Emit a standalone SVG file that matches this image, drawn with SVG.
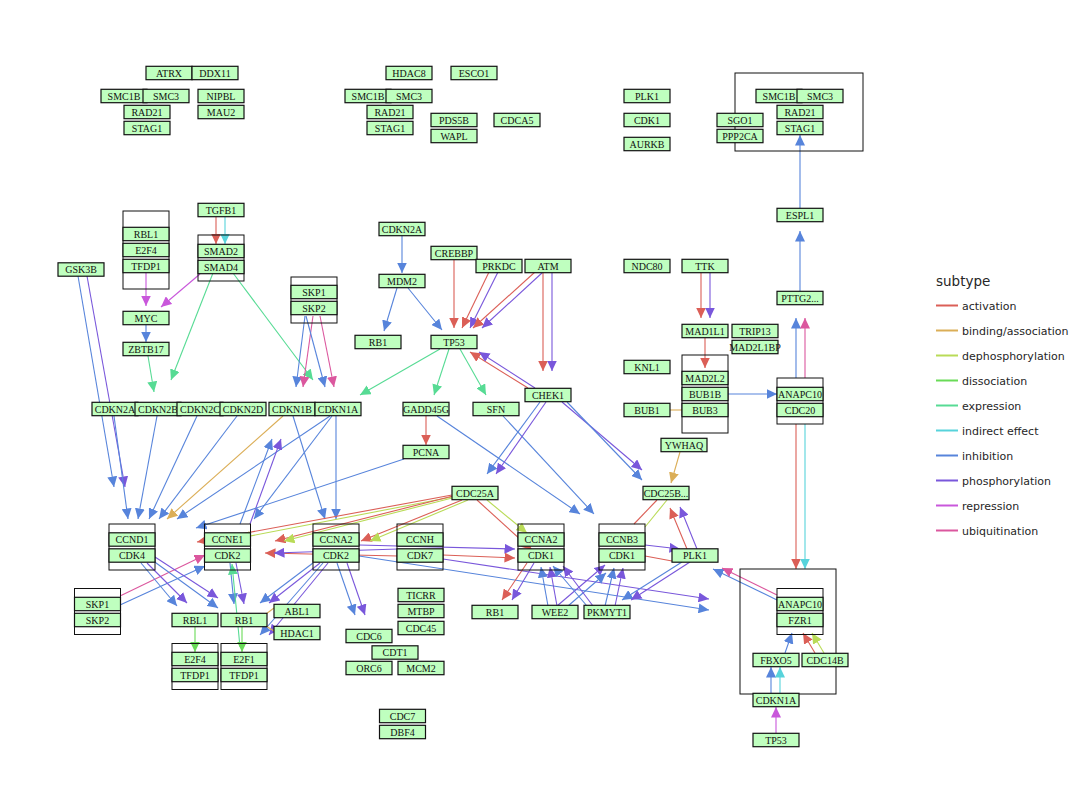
<svg xmlns="http://www.w3.org/2000/svg" width="1080" height="810" viewBox="0 0 1080 810">
<style>
.nd{fill:#BFFFBF;stroke:#111;stroke-width:1.2}
.fr{fill:none;stroke:#111;stroke-width:1}
.t{font-family:"Liberation Serif","Times New Roman",serif;font-size:10px;fill:#111;text-anchor:middle}
.e line{stroke-width:1.1;fill:none}
.a{stroke:#DB5F57;marker-end:url(#ma)}
.b{stroke:#DBAE57;marker-end:url(#mb)}
.d{stroke:#B9DB57;marker-end:url(#md)}
.x{stroke:#69DB57;marker-end:url(#mx)}
.ex{stroke:#57DB94;marker-end:url(#me)}
.i{stroke:#57D3DB;marker-end:url(#mi)}
.h{stroke:#5784DB;marker-end:url(#mh)}
.p{stroke:#7957DB;marker-end:url(#mp)}
.r{stroke:#C957DB;marker-end:url(#mr)}
.u{stroke:#DB579E;marker-end:url(#mu)}
.e line.n{marker-end:none}
.lg{font-family:"DejaVu Sans",sans-serif;fill:#262626}
.lg line{stroke-width:2}
</style>
<defs>
<marker id="ma" markerUnits="userSpaceOnUse" markerWidth="11" markerHeight="10" refX="10.5" refY="5" orient="auto"><path d="M0,0 L10.5,5 L0,10 z" fill="#DB5F57"/></marker>
<marker id="mb" markerUnits="userSpaceOnUse" markerWidth="11" markerHeight="10" refX="10.5" refY="5" orient="auto"><path d="M0,0 L10.5,5 L0,10 z" fill="#DBAE57"/></marker>
<marker id="md" markerUnits="userSpaceOnUse" markerWidth="11" markerHeight="10" refX="10.5" refY="5" orient="auto"><path d="M0,0 L10.5,5 L0,10 z" fill="#B9DB57"/></marker>
<marker id="mx" markerUnits="userSpaceOnUse" markerWidth="11" markerHeight="10" refX="10.5" refY="5" orient="auto"><path d="M0,0 L10.5,5 L0,10 z" fill="#69DB57"/></marker>
<marker id="me" markerUnits="userSpaceOnUse" markerWidth="11" markerHeight="10" refX="10.5" refY="5" orient="auto"><path d="M0,0 L10.5,5 L0,10 z" fill="#57DB94"/></marker>
<marker id="mi" markerUnits="userSpaceOnUse" markerWidth="11" markerHeight="10" refX="10.5" refY="5" orient="auto"><path d="M0,0 L10.5,5 L0,10 z" fill="#57D3DB"/></marker>
<marker id="mh" markerUnits="userSpaceOnUse" markerWidth="11" markerHeight="10" refX="10.5" refY="5" orient="auto"><path d="M0,0 L10.5,5 L0,10 z" fill="#5784DB"/></marker>
<marker id="mp" markerUnits="userSpaceOnUse" markerWidth="11" markerHeight="10" refX="10.5" refY="5" orient="auto"><path d="M0,0 L10.5,5 L0,10 z" fill="#7957DB"/></marker>
<marker id="mr" markerUnits="userSpaceOnUse" markerWidth="11" markerHeight="10" refX="10.5" refY="5" orient="auto"><path d="M0,0 L10.5,5 L0,10 z" fill="#C957DB"/></marker>
<marker id="mu" markerUnits="userSpaceOnUse" markerWidth="11" markerHeight="10" refX="10.5" refY="5" orient="auto"><path d="M0,0 L10.5,5 L0,10 z" fill="#DB579E"/></marker>
</defs>
<rect width="1080" height="810" fill="#fff"/>

<g id="edges" class="e">
<line class="a" x1="216" y1="217" x2="216" y2="244"/>
<line class="i" x1="225" y1="217" x2="225" y2="244"/>
<line class="r" x1="146" y1="273" x2="146" y2="306"/>
<line class="r" x1="200" y1="274" x2="161" y2="307"/>
<line class="h" x1="146" y1="325" x2="146" y2="342"/>
<line class="ex" x1="148" y1="356" x2="154" y2="392"/>
<line class="ex" x1="213" y1="273" x2="171" y2="380"/>
<line class="ex" x1="233" y1="273" x2="313" y2="380"/>
<line class="h" x1="305" y1="316" x2="296" y2="387"/>
<line class="u" x1="313" y1="316" x2="303" y2="387"/>
<line class="h" x1="306" y1="316" x2="325" y2="387"/>
<line class="u" x1="320" y1="316" x2="334" y2="387"/>
<line class="h" x1="78" y1="276" x2="114" y2="487"/>
<line class="p" x1="87" y1="276" x2="125" y2="487"/>
<line class="h" x1="114" y1="416" x2="128" y2="519"/>
<line class="h" x1="157" y1="416" x2="138" y2="519"/>
<line class="h" x1="197" y1="416" x2="149" y2="519"/>
<line class="h" x1="237" y1="416" x2="159" y2="519"/>
<line class="b" x1="283" y1="416" x2="167" y2="519"/>
<line class="h" x1="330" y1="416" x2="177" y2="519"/>
<line class="h" x1="332" y1="416" x2="254" y2="519"/>
<line class="h" x1="293" y1="416" x2="325" y2="519"/>
<line class="h" x1="336" y1="416" x2="336" y2="519"/>
<line class="h" x1="240" y1="524" x2="272" y2="439"/>
<line class="p" x1="250" y1="524" x2="281" y2="439"/>
<line class="h" x1="404" y1="459" x2="196" y2="528"/>
<line class="u" x1="120" y1="596" x2="205" y2="555"/>
<line class="h" x1="120" y1="605" x2="205" y2="566"/>
<line class="h" x1="402" y1="236" x2="402" y2="273"/>
<line class="h" x1="397" y1="288" x2="384" y2="331"/>
<line class="h" x1="408" y1="288" x2="442" y2="330"/>
<line class="a" x1="454" y1="260" x2="454" y2="328"/>
<line class="a" x1="489" y1="272" x2="462" y2="328"/>
<line class="p" x1="498" y1="272" x2="470" y2="328"/>
<line class="a" x1="535" y1="272" x2="473" y2="328"/>
<line class="p" x1="543" y1="272" x2="482" y2="328"/>
<line class="a" x1="543" y1="272" x2="543" y2="371"/>
<line class="p" x1="552" y1="272" x2="552" y2="371"/>
<line class="a" x1="528" y1="388" x2="470" y2="352"/>
<line class="p" x1="535" y1="388" x2="479" y2="352"/>
<line class="ex" x1="440" y1="349" x2="360" y2="395"/>
<line class="ex" x1="449" y1="349" x2="434" y2="395"/>
<line class="ex" x1="460" y1="349" x2="486" y2="395"/>
<line class="a" x1="426" y1="416" x2="426" y2="445"/>
<line class="h" x1="437" y1="416" x2="580" y2="514"/>
<line class="h" x1="503" y1="416" x2="594" y2="514"/>
<line class="h" x1="540" y1="402" x2="487" y2="474"/>
<line class="p" x1="546" y1="402" x2="496" y2="474"/>
<line class="p" x1="562" y1="402" x2="642" y2="470"/>
<line class="h" x1="567" y1="402" x2="642" y2="480"/>
<line class="b" x1="680" y1="452" x2="671" y2="483"/>
<line class="a" x1="452" y1="495" x2="197" y2="542"/>
<line class="d" x1="452" y1="497" x2="240" y2="538"/>
<line class="a" x1="453" y1="496" x2="275" y2="541"/>
<line class="d" x1="456" y1="497" x2="284" y2="541"/>
<line class="a" x1="462" y1="500" x2="361" y2="541"/>
<line class="d" x1="468" y1="500" x2="370" y2="541"/>
<line class="a" x1="477" y1="500" x2="532" y2="550"/>
<line class="d" x1="487" y1="500" x2="527" y2="533"/>
<line class="a" x1="398" y1="556" x2="265" y2="553"/>
<line class="p" x1="398" y1="549" x2="274" y2="553"/>
<line class="p" x1="359" y1="545" x2="515" y2="549"/>
<line class="a" x1="443" y1="555" x2="515" y2="558"/>
<line class="p" x1="443" y1="559" x2="709" y2="599"/>
<line class="h" x1="359" y1="556" x2="709" y2="610"/>
<line class="h" x1="337" y1="563" x2="355" y2="615"/>
<line class="p" x1="347" y1="563" x2="365" y2="615"/>
<line class="h" x1="313" y1="563" x2="260" y2="603"/>
<line class="p" x1="320" y1="563" x2="269" y2="603"/>
<line class="h" x1="323" y1="563" x2="260" y2="635"/>
<line class="p" x1="328" y1="563" x2="269" y2="635"/>
<line class="h" x1="230" y1="563" x2="234" y2="604"/>
<line class="p" x1="236" y1="563" x2="244" y2="604"/>
<line class="ex" x1="240" y1="647" x2="232" y2="564"/>
<line class="x" x1="242" y1="627" x2="242" y2="652"/>
<line class="x" x1="195" y1="627" x2="195" y2="652"/>
<line class="h" x1="141" y1="563" x2="177" y2="606"/>
<line class="p" x1="147" y1="563" x2="187" y2="603"/>
<line class="p" x1="155" y1="557" x2="218" y2="598"/>
<line class="h" x1="152" y1="560" x2="218" y2="608"/>
<line class="b n" x1="266" y1="614" x2="274" y2="608"/>
<line class="b n" x1="266" y1="626" x2="274" y2="631"/>
<line class="a" x1="527" y1="563" x2="502" y2="600"/>
<line class="p" x1="534" y1="563" x2="512" y2="600"/>
<line class="h" x1="548" y1="606" x2="541" y2="567"/>
<line class="p" x1="557" y1="606" x2="550" y2="567"/>
<line class="p" x1="557" y1="606" x2="605" y2="565"/>
<line class="h" x1="568" y1="606" x2="606" y2="573"/>
<line class="h" x1="587" y1="606" x2="553" y2="566"/>
<line class="p" x1="593" y1="606" x2="563" y2="566"/>
<line class="h" x1="605" y1="606" x2="614" y2="568"/>
<line class="p" x1="615" y1="606" x2="623" y2="568"/>
<line class="p" x1="645" y1="545" x2="680" y2="549"/>
<line class="a n" x1="645" y1="556" x2="672" y2="561"/>
<line class="a n" x1="657" y1="500" x2="634" y2="524"/>
<line class="d n" x1="667" y1="500" x2="645" y2="527"/>
<line class="a" x1="687" y1="549" x2="670" y2="508"/>
<line class="p" x1="697" y1="549" x2="680" y2="507"/>
<line class="h" x1="682" y1="562" x2="622" y2="600"/>
<line class="p" x1="690" y1="562" x2="631" y2="600"/>
<line class="h" x1="777" y1="600" x2="713" y2="569"/>
<line class="u" x1="777" y1="595" x2="722" y2="568"/>
<line class="h" x1="785" y1="653" x2="792" y2="633"/>
<line class="a" x1="815" y1="653" x2="803" y2="633"/>
<line class="d" x1="824" y1="653" x2="812" y2="633"/>
<line class="h" x1="771" y1="693" x2="771" y2="667"/>
<line class="i" x1="780" y1="693" x2="780" y2="667"/>
<line class="r" x1="776" y1="733" x2="776" y2="707"/>
<line class="a" x1="796" y1="424" x2="796" y2="569"/>
<line class="i" x1="805" y1="424" x2="805" y2="569"/>
<line class="h" x1="796" y1="378" x2="796" y2="318"/>
<line class="u" x1="805" y1="378" x2="805" y2="318"/>
<line class="h" x1="800" y1="291" x2="800" y2="231"/>
<line class="h" x1="800" y1="208" x2="800" y2="135"/>
<line class="h" x1="728" y1="394" x2="777" y2="394"/>
<line class="b n" x1="670" y1="410" x2="682" y2="410"/>
<line class="a" x1="701" y1="273" x2="701" y2="318"/>
<line class="p" x1="710" y1="273" x2="710" y2="318"/>
<line class="a" x1="705" y1="338" x2="705" y2="368"/>
</g>

<g id="frames">
<rect class="fr" x="735" y="73" width="128" height="78"/>
<rect class="fr" x="198" y="235" width="46" height="46"/>
<rect class="fr" x="123" y="211" width="46" height="78"/>
<rect class="fr" x="291" y="277" width="46" height="46"/>
<rect class="fr" x="682" y="355" width="46" height="78"/>
<rect class="fr" x="777" y="378" width="46" height="46"/>
<rect class="fr" x="109" y="524" width="46" height="46"/>
<rect class="fr" x="204.5" y="524" width="46" height="46"/>
<rect class="fr" x="313" y="524" width="46" height="46"/>
<rect class="fr" x="397" y="524" width="46" height="46"/>
<rect class="fr" x="518" y="524" width="46" height="46"/>
<rect class="fr" x="599" y="524" width="46" height="46"/>
<rect class="fr" x="74.5" y="588.5" width="46" height="46"/>
<rect class="fr" x="172" y="643.5" width="46" height="46"/>
<rect class="fr" x="221" y="643.5" width="46" height="46"/>
<rect class="fr" x="740" y="569" width="96" height="125"/>
<rect class="fr" x="777" y="588.5" width="46" height="46"/>
</g>

<g id="n1"><rect class="nd" x="146" y="66.3" width="46" height="13.4"/><text class="t" x="169" y="76.5">ATRX</text></g>
<g id="n2"><rect class="nd" x="192" y="66.3" width="46" height="13.4"/><text class="t" x="215" y="76.5">DDX11</text></g>
<g id="n3"><rect class="nd" x="101" y="89.3" width="46" height="13.4"/><text class="t" x="124" y="99.5">SMC1B</text></g>
<g id="n4"><rect class="nd" x="143" y="89.3" width="46" height="13.4"/><text class="t" x="166" y="99.5">SMC3</text></g>
<g id="n5"><rect class="nd" x="198" y="89.3" width="46" height="13.4"/><text class="t" x="221" y="99.5">NIPBL</text></g>
<g id="n6"><rect class="nd" x="124" y="105.3" width="46" height="13.4"/><text class="t" x="147" y="115.5">RAD21</text></g>
<g id="n7"><rect class="nd" x="198" y="105.3" width="46" height="13.4"/><text class="t" x="221" y="115.5">MAU2</text></g>
<g id="n8"><rect class="nd" x="124" y="121.3" width="46" height="13.4"/><text class="t" x="147" y="131.5">STAG1</text></g>
<g id="n9"><rect class="nd" x="386" y="66.3" width="46" height="13.4"/><text class="t" x="409" y="76.5">HDAC8</text></g>
<g id="n10"><rect class="nd" x="451" y="66.3" width="46" height="13.4"/><text class="t" x="474" y="76.5">ESCO1</text></g>
<g id="n11"><rect class="nd" x="345" y="89.3" width="46" height="13.4"/><text class="t" x="368" y="99.5">SMC1B</text></g>
<g id="n12"><rect class="nd" x="386" y="89.3" width="46" height="13.4"/><text class="t" x="409" y="99.5">SMC3</text></g>
<g id="n13"><rect class="nd" x="367" y="105.3" width="46" height="13.4"/><text class="t" x="390" y="115.5">RAD21</text></g>
<g id="n14"><rect class="nd" x="367" y="121.3" width="46" height="13.4"/><text class="t" x="390" y="131.5">STAG1</text></g>
<g id="n15"><rect class="nd" x="431" y="113.3" width="46" height="13.4"/><text class="t" x="454" y="123.5">PDS5B</text></g>
<g id="n16"><rect class="nd" x="431" y="129.3" width="46" height="13.4"/><text class="t" x="454" y="139.5">WAPL</text></g>
<g id="n17"><rect class="nd" x="494" y="113.3" width="46" height="13.4"/><text class="t" x="517" y="123.5">CDCA5</text></g>
<g id="n18"><rect class="nd" x="624" y="89.3" width="46" height="13.4"/><text class="t" x="647" y="99.5">PLK1</text></g>
<g id="n19"><rect class="nd" x="624" y="113.3" width="46" height="13.4"/><text class="t" x="647" y="123.5">CDK1</text></g>
<g id="n20"><rect class="nd" x="624" y="137.3" width="46" height="13.4"/><text class="t" x="647" y="147.5">AURKB</text></g>
<g id="n21"><rect class="nd" x="756" y="89.3" width="46" height="13.4"/><text class="t" x="779" y="99.5">SMC1B</text></g>
<g id="n22"><rect class="nd" x="797" y="89.3" width="46" height="13.4"/><text class="t" x="820" y="99.5">SMC3</text></g>
<g id="n23"><rect class="nd" x="777" y="105.3" width="46" height="13.4"/><text class="t" x="800" y="115.5">RAD21</text></g>
<g id="n24"><rect class="nd" x="777" y="121.3" width="46" height="13.4"/><text class="t" x="800" y="131.5">STAG1</text></g>
<g id="n25"><rect class="nd" x="717" y="113.3" width="46" height="13.4"/><text class="t" x="740" y="123.5">SGO1</text></g>
<g id="n26"><rect class="nd" x="717" y="129.3" width="46" height="13.4"/><text class="t" x="740" y="139.5">PPP2CA</text></g>
<g id="n27"><rect class="nd" x="198" y="203.3" width="46" height="13.4"/><text class="t" x="221" y="213.5">TGFB1</text></g>
<g id="n28"><rect class="nd" x="198" y="244.3" width="46" height="13.4"/><text class="t" x="221" y="254.5">SMAD2</text></g>
<g id="n29"><rect class="nd" x="198" y="260.3" width="46" height="13.4"/><text class="t" x="221" y="270.5">SMAD4</text></g>
<g id="n30"><rect class="nd" x="123" y="227.3" width="46" height="13.4"/><text class="t" x="146" y="237.5">RBL1</text></g>
<g id="n31"><rect class="nd" x="123" y="243.3" width="46" height="13.4"/><text class="t" x="146" y="253.5">E2F4</text></g>
<g id="n32"><rect class="nd" x="123" y="259.3" width="46" height="13.4"/><text class="t" x="146" y="269.5">TFDP1</text></g>
<g id="n33"><rect class="nd" x="58" y="262.8" width="46" height="13.4"/><text class="t" x="81" y="273">GSK3B</text></g>
<g id="n34"><rect class="nd" x="123" y="311.3" width="46" height="13.4"/><text class="t" x="146" y="321.5">MYC</text></g>
<g id="n35"><rect class="nd" x="123" y="342.3" width="46" height="13.4"/><text class="t" x="146" y="352.5">ZBTB17</text></g>
<g id="n36"><rect class="nd" x="291" y="285.3" width="46" height="13.4"/><text class="t" x="314" y="295.5">SKP1</text></g>
<g id="n37"><rect class="nd" x="291" y="301.3" width="46" height="13.4"/><text class="t" x="314" y="311.5">SKP2</text></g>
<g id="n38"><rect class="nd" x="379" y="222.3" width="46" height="13.4"/><text class="t" x="402" y="232.5">CDKN2A</text></g>
<g id="n39"><rect class="nd" x="431" y="246.3" width="46" height="13.4"/><text class="t" x="454" y="256.5">CREBBP</text></g>
<g id="n40"><rect class="nd" x="476" y="259.3" width="46" height="13.4"/><text class="t" x="499" y="269.5">PRKDC</text></g>
<g id="n41"><rect class="nd" x="525" y="259.3" width="46" height="13.4"/><text class="t" x="548" y="269.5">ATM</text></g>
<g id="n42"><rect class="nd" x="379" y="274.3" width="46" height="13.4"/><text class="t" x="402" y="284.5">MDM2</text></g>
<g id="n43"><rect class="nd" x="355" y="335.3" width="46" height="13.4"/><text class="t" x="378" y="345.5">RB1</text></g>
<g id="n44"><rect class="nd" x="431" y="335.3" width="46" height="13.4"/><text class="t" x="454" y="345.5">TP53</text></g>
<g id="n45"><rect class="nd" x="624" y="259.3" width="46" height="13.4"/><text class="t" x="647" y="269.5">NDC80</text></g>
<g id="n46"><rect class="nd" x="682" y="259.3" width="46" height="13.4"/><text class="t" x="705" y="269.5">TTK</text></g>
<g id="n47"><rect class="nd" x="777" y="291.3" width="46" height="13.4"/><text class="t" x="800" y="301.5">PTTG2...</text></g>
<g id="n48"><rect class="nd" x="777" y="208.3" width="46" height="13.4"/><text class="t" x="800" y="218.5">ESPL1</text></g>
<g id="n49"><rect class="nd" x="682" y="324.3" width="46" height="13.4"/><text class="t" x="705" y="334.5">MAD1L1</text></g>
<g id="n50"><rect class="nd" x="732" y="324.3" width="46" height="13.4"/><text class="t" x="755" y="334.5">TRIP13</text></g>
<g id="n51"><rect class="nd" x="732" y="340.3" width="46" height="13.4"/><text class="t" x="755" y="350.5">MAD2L1BP</text></g>
<g id="n52"><rect class="nd" x="624" y="360.3" width="46" height="13.4"/><text class="t" x="647" y="370.5">KNL1</text></g>
<g id="n53"><rect class="nd" x="682" y="371.3" width="46" height="13.4"/><text class="t" x="705" y="381.5">MAD2L2</text></g>
<g id="n54"><rect class="nd" x="682" y="387.3" width="46" height="13.4"/><text class="t" x="705" y="397.5">BUB1B</text></g>
<g id="n55"><rect class="nd" x="682" y="403.3" width="46" height="13.4"/><text class="t" x="705" y="413.5">BUB3</text></g>
<g id="n56"><rect class="nd" x="624" y="403.3" width="46" height="13.4"/><text class="t" x="647" y="413.5">BUB1</text></g>
<g id="n57"><rect class="nd" x="777" y="387.3" width="46" height="13.4"/><text class="t" x="800" y="397.5">ANAPC10</text></g>
<g id="n58"><rect class="nd" x="777" y="403.3" width="46" height="13.4"/><text class="t" x="800" y="413.5">CDC20</text></g>
<g id="n59"><rect class="nd" x="92" y="402.3" width="46" height="13.4"/><text class="t" x="115" y="412.5">CDKN2A</text></g>
<g id="n60"><rect class="nd" x="135" y="402.3" width="46" height="13.4"/><text class="t" x="158" y="412.5">CDKN2B</text></g>
<g id="n61"><rect class="nd" x="177" y="402.3" width="46" height="13.4"/><text class="t" x="200" y="412.5">CDKN2C</text></g>
<g id="n62"><rect class="nd" x="220" y="402.3" width="46" height="13.4"/><text class="t" x="243" y="412.5">CDKN2D</text></g>
<g id="n63"><rect class="nd" x="269" y="402.3" width="46" height="13.4"/><text class="t" x="292" y="412.5">CDKN1B</text></g>
<g id="n64"><rect class="nd" x="315" y="402.3" width="46" height="13.4"/><text class="t" x="338" y="412.5">CDKN1A</text></g>
<g id="n65"><rect class="nd" x="403" y="402.3" width="46" height="13.4"/><text class="t" x="426" y="412.5">GADD45G</text></g>
<g id="n66"><rect class="nd" x="473" y="402.3" width="46" height="13.4"/><text class="t" x="496" y="412.5">SFN</text></g>
<g id="n67"><rect class="nd" x="525" y="388.3" width="46" height="13.4"/><text class="t" x="548" y="398.5">CHEK1</text></g>
<g id="n68"><rect class="nd" x="403" y="445.3" width="46" height="13.4"/><text class="t" x="426" y="455.5">PCNA</text></g>
<g id="n69"><rect class="nd" x="661" y="438.3" width="46" height="13.4"/><text class="t" x="684" y="448.5">YWHAQ</text></g>
<g id="n70"><rect class="nd" x="452" y="486.3" width="46" height="13.4"/><text class="t" x="475" y="496.5">CDC25A</text></g>
<g id="n71"><rect class="nd" x="643" y="486.3" width="46" height="13.4"/><text class="t" x="666" y="496.5">CDC25B...</text></g>
<g id="n72"><rect class="nd" x="109" y="532.8" width="46" height="13.4"/><text class="t" x="132" y="543">CCND1</text></g>
<g id="n73"><rect class="nd" x="109" y="548.8" width="46" height="13.4"/><text class="t" x="132" y="559">CDK4</text></g>
<g id="n74"><rect class="nd" x="204.5" y="532.8" width="46" height="13.4"/><text class="t" x="227.5" y="543">CCNE1</text></g>
<g id="n75"><rect class="nd" x="204.5" y="548.8" width="46" height="13.4"/><text class="t" x="227.5" y="559">CDK2</text></g>
<g id="n76"><rect class="nd" x="313" y="532.8" width="46" height="13.4"/><text class="t" x="336" y="543">CCNA2</text></g>
<g id="n77"><rect class="nd" x="313" y="548.8" width="46" height="13.4"/><text class="t" x="336" y="559">CDK2</text></g>
<g id="n78"><rect class="nd" x="397" y="532.8" width="46" height="13.4"/><text class="t" x="420" y="543">CCNH</text></g>
<g id="n79"><rect class="nd" x="397" y="548.8" width="46" height="13.4"/><text class="t" x="420" y="559">CDK7</text></g>
<g id="n80"><rect class="nd" x="518" y="532.8" width="46" height="13.4"/><text class="t" x="541" y="543">CCNA2</text></g>
<g id="n81"><rect class="nd" x="518" y="548.8" width="46" height="13.4"/><text class="t" x="541" y="559">CDK1</text></g>
<g id="n82"><rect class="nd" x="599" y="532.8" width="46" height="13.4"/><text class="t" x="622" y="543">CCNB3</text></g>
<g id="n83"><rect class="nd" x="599" y="548.8" width="46" height="13.4"/><text class="t" x="622" y="559">CDK1</text></g>
<g id="n84"><rect class="nd" x="672" y="548.8" width="46" height="13.4"/><text class="t" x="695" y="559">PLK1</text></g>
<g id="n85"><rect class="nd" x="74.5" y="597.3" width="46" height="13.4"/><text class="t" x="97.5" y="607.5">SKP1</text></g>
<g id="n86"><rect class="nd" x="74.5" y="613.3" width="46" height="13.4"/><text class="t" x="97.5" y="623.5">SKP2</text></g>
<g id="n87"><rect class="nd" x="172" y="613.3" width="46" height="13.4"/><text class="t" x="195" y="623.5">RBL1</text></g>
<g id="n88"><rect class="nd" x="221" y="613.3" width="46" height="13.4"/><text class="t" x="244" y="623.5">RB1</text></g>
<g id="n89"><rect class="nd" x="274" y="604.3" width="46" height="13.4"/><text class="t" x="297" y="614.5">ABL1</text></g>
<g id="n90"><rect class="nd" x="274" y="626.3" width="46" height="13.4"/><text class="t" x="297" y="636.5">HDAC1</text></g>
<g id="n91"><rect class="nd" x="172" y="652.3" width="46" height="13.4"/><text class="t" x="195" y="662.5">E2F4</text></g>
<g id="n92"><rect class="nd" x="172" y="668.3" width="46" height="13.4"/><text class="t" x="195" y="678.5">TFDP1</text></g>
<g id="n93"><rect class="nd" x="221" y="652.3" width="46" height="13.4"/><text class="t" x="244" y="662.5">E2F1</text></g>
<g id="n94"><rect class="nd" x="221" y="668.3" width="46" height="13.4"/><text class="t" x="244" y="678.5">TFDP1</text></g>
<g id="n95"><rect class="nd" x="398" y="588.3" width="46" height="13.4"/><text class="t" x="421" y="598.5">TICRR</text></g>
<g id="n96"><rect class="nd" x="398" y="604.3" width="46" height="13.4"/><text class="t" x="421" y="614.5">MTBP</text></g>
<g id="n97"><rect class="nd" x="398" y="621.3" width="46" height="13.4"/><text class="t" x="421" y="631.5">CDC45</text></g>
<g id="n98"><rect class="nd" x="346" y="629.3" width="46" height="13.4"/><text class="t" x="369" y="639.5">CDC6</text></g>
<g id="n99"><rect class="nd" x="372" y="645.8" width="46" height="13.4"/><text class="t" x="395" y="656">CDT1</text></g>
<g id="n100"><rect class="nd" x="346" y="661.3" width="46" height="13.4"/><text class="t" x="369" y="671.5">ORC6</text></g>
<g id="n101"><rect class="nd" x="398" y="661.3" width="46" height="13.4"/><text class="t" x="421" y="671.5">MCM2</text></g>
<g id="n102"><rect class="nd" x="379.5" y="709.3" width="46" height="13.4"/><text class="t" x="402.5" y="719.5">CDC7</text></g>
<g id="n103"><rect class="nd" x="379.5" y="725.3" width="46" height="13.4"/><text class="t" x="402.5" y="735.5">DBF4</text></g>
<g id="n104"><rect class="nd" x="472" y="605.3" width="46" height="13.4"/><text class="t" x="495" y="615.5">RB1</text></g>
<g id="n105"><rect class="nd" x="532" y="605.3" width="46" height="13.4"/><text class="t" x="555" y="615.5">WEE2</text></g>
<g id="n106"><rect class="nd" x="584" y="605.3" width="46" height="13.4"/><text class="t" x="607" y="615.5">PKMYT1</text></g>
<g id="n107"><rect class="nd" x="777" y="597.3" width="46" height="13.4"/><text class="t" x="800" y="607.5">ANAPC10</text></g>
<g id="n108"><rect class="nd" x="777" y="613.3" width="46" height="13.4"/><text class="t" x="800" y="623.5">FZR1</text></g>
<g id="n109"><rect class="nd" x="753" y="653.3" width="46" height="13.4"/><text class="t" x="776" y="663.5">FBXO5</text></g>
<g id="n110"><rect class="nd" x="802" y="653.3" width="46" height="13.4"/><text class="t" x="825" y="663.5">CDC14B</text></g>
<g id="n111"><rect class="nd" x="753" y="693.3" width="46" height="13.4"/><text class="t" x="776" y="703.5">CDKN1A</text></g>
<g id="n112"><rect class="nd" x="753" y="733.3" width="46" height="13.4"/><text class="t" x="776" y="743.5">TP53</text></g>

<g id="legend" class="lg">
<text x="936" y="286" font-size="13.5">subtype</text>
<line x1="936" y1="305.5" x2="958" y2="305.5" stroke="#DB5F57"/><text x="962" y="309.5" font-size="11">activation</text>
<line x1="936" y1="330.5" x2="958" y2="330.5" stroke="#DBAE57"/><text x="962" y="334.5" font-size="11">binding/association</text>
<line x1="936" y1="355.5" x2="958" y2="355.5" stroke="#B9DB57"/><text x="962" y="359.5" font-size="11">dephosphorylation</text>
<line x1="936" y1="380.5" x2="958" y2="380.5" stroke="#69DB57"/><text x="962" y="384.5" font-size="11">dissociation</text>
<line x1="936" y1="405.5" x2="958" y2="405.5" stroke="#57DB94"/><text x="962" y="409.5" font-size="11">expression</text>
<line x1="936" y1="430.5" x2="958" y2="430.5" stroke="#57D3DB"/><text x="962" y="434.5" font-size="11">indirect effect</text>
<line x1="936" y1="455.5" x2="958" y2="455.5" stroke="#5784DB"/><text x="962" y="459.5" font-size="11">inhibition</text>
<line x1="936" y1="480.5" x2="958" y2="480.5" stroke="#7957DB"/><text x="962" y="484.5" font-size="11">phosphorylation</text>
<line x1="936" y1="505.5" x2="958" y2="505.5" stroke="#C957DB"/><text x="962" y="509.5" font-size="11">repression</text>
<line x1="936" y1="530.5" x2="958" y2="530.5" stroke="#DB579E"/><text x="962" y="534.5" font-size="11">ubiquitination</text>
</g>
</svg>
